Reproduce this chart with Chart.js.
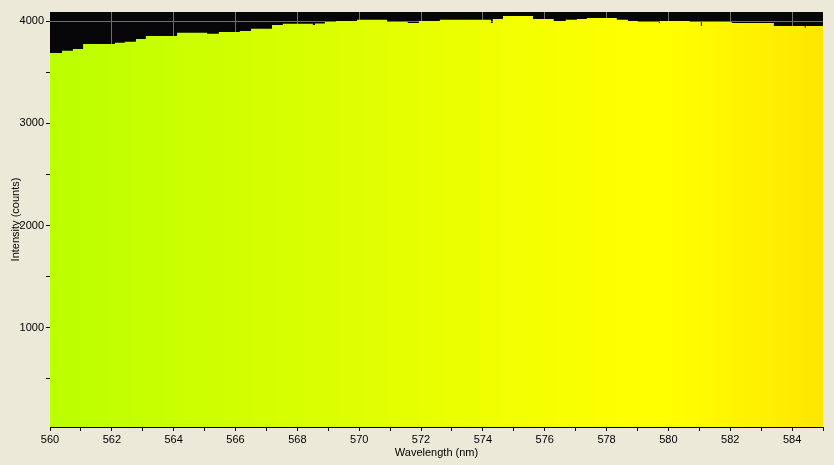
<!DOCTYPE html>
<html>
<head>
<meta charset="utf-8">
<script src="https://cdn.jsdelivr.net/npm/chart.js@4/dist/chart.umd.min.js"></script>
<style>
  html, body { margin: 0; padding: 0; background: #ECE9D8; }
  canvas { display: block; }
</style>
</head>
<body>
<canvas id="spectrum" width="834" height="465"></canvas>
<script>
// Spectrum readout: each entry is where a step starts (nm) and its height (counts)
const wavelengths = [560.00, 560.39, 560.74, 561.07, 562.10, 562.42, 562.78, 563.10, 564.11, 565.08,
  565.46, 566.14, 566.50, 567.18, 567.53, 568.50, 568.57, 568.89, 569.25, 569.93,
  570.90, 571.57, 571.93, 572.61, 574.26, 574.32, 574.65, 575.62, 576.29, 576.68,
  577.04, 577.36, 578.33, 578.69, 579.01, 579.69, 579.72, 580.69, 581.05, 581.08,
  582.05, 583.41, 584.41, 584.44, 585.00];
const counts = [3690, 3710, 3729, 3778, 3788, 3798, 3827, 3856, 3886, 3876,
  3895, 3905, 3925, 3964, 3974, 3964, 3978, 3993, 4003, 4013,
  3993, 3983, 4003, 4013, 3983, 4022, 4052, 4022, 4003, 4013,
  4022, 4032, 4013, 4003, 3993, 3983, 4003, 3993, 3954, 3993,
  3983, 3954, 3935, 3954, 3954];

// y ticks every 500, labelled every 1000
const yTicks = [500, 1000, 1500, 2000, 2500, 3000, 3500, 4000];

const xTitle = 'Wavelength (nm)';
const yTitle = 'Intensity (counts)';

// colour of the light at each wavelength, used for the fill
const colorStops = [
  [560, '#bbff00'],
  [565, '#cdff00'],
  [570, '#dfff00'],
  [575, '#f2ff00'],
  [579, '#ffff00'],
  [580, '#ffff00'],
  [585, '#ffe600']
];

Chart.defaults.font.family = '"Liberation Sans", Arial, sans-serif';
Chart.defaults.font.size = 11;
Chart.defaults.color = '#000';

const points = wavelengths.map((w, i) => ({ x: w, y: counts[i] }));

// paint page + black plot area
const plotBackground = {
  id: 'plotBackground',
  beforeDraw(chart) {
    const { ctx, chartArea } = chart;
    ctx.save();
    ctx.fillStyle = '#ECE9D8';
    ctx.fillRect(0, 0, chart.width, chart.height);
    ctx.fillStyle = '#060609';
    ctx.fillRect(chartArea.left, chartArea.top, chartArea.right - chartArea.left, chartArea.bottom - chartArea.top);
    ctx.restore();
  }
};

function spectrumFill(context) {
  const chart = context.chart;
  if (!chart.chartArea) return '#ffff00';
  const xs = chart.scales.x;
  const x0 = xs.getPixelForValue(560);
  const x1 = xs.getPixelForValue(585);
  const g = chart.ctx.createLinearGradient(x0, 0, x1, 0);
  colorStops.forEach(([w, c]) => g.addColorStop((w - 560) / 25, c));
  return g;
}

new Chart(document.getElementById('spectrum').getContext('2d'), {
  type: 'line',
  data: {
    datasets: [{
      data: points,
      stepped: true,
      fill: 'start',
      borderWidth: 0,
      pointRadius: 0,
      backgroundColor: spectrumFill
    }]
  },
  options: {
    responsive: false,
    animation: false,
    layout: { padding: { top: 12, right: 11, left: 0, bottom: 0 } },
    plugins: {
      legend: { display: false },
      tooltip: { enabled: false }
    },
    scales: {
      x: {
        type: 'linear',
        min: 560,
        max: 585,
        afterFit: (s) => { s.height = 38; },
        ticks: {
          stepSize: 1,
          autoSkip: false,
          maxRotation: 0,
          padding: 2,
          callback: (v) => (v % 2 === 0 ? v : '')
        },
        grid: {
          tickLength: 4,
          color: (c) => {
            const v = c.tick ? c.tick.value : null;
            return (v !== null && v % 2 === 0 && v > 560 && v < 585) ? '#6e6e6e' : 'rgba(0,0,0,0)';
          },
          tickColor: '#000'
        },
        border: { display: true, color: '#000' },
        title: { display: true, text: xTitle, padding: { top: 0, bottom: 5 } }
      },
      y: {
        min: 30,
        max: 4090,
        afterFit: (s) => { s.width = 50; },
        afterBuildTicks: (s) => { s.ticks = yTicks.map((v) => ({ value: v })); },
        ticks: {
          autoSkip: false,
          padding: 2,
          callback: (v) => (v % 1000 === 0 ? v : '')
        },
        grid: {
          tickLength: 4,
          color: '#6e6e6e',
          tickColor: '#000'
        },
        border: { display: false },
        title: { display: true, text: yTitle, padding: { top: 9, bottom: 0 } }
      }
    }
  },
  plugins: [plotBackground]
});
</script>
</body>
</html>
